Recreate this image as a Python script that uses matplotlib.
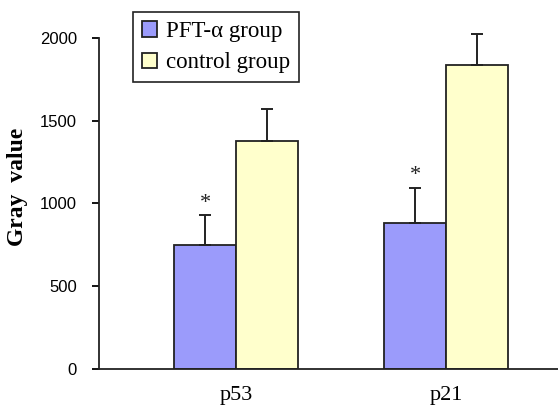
import numpy as np
import matplotlib
matplotlib.use("Agg")
import matplotlib.pyplot as plt

# data
genes = ["p53", "p21"]
pft_mean = [747, 882]
pft_err = [181, 212]
ctrl_mean = [1380, 1837]
ctrl_err = [192, 187]
yticks = [0, 500, 1000, 1500, 2000]

fig = plt.figure(figsize=(5.58, 4.07), dpi=100)
ax = fig.add_axes([0.1774, 0.0934, 0.8226, 0.8132])

x = np.arange(len(genes))
w = 0.295

ax.bar(x - w / 2, pft_mean, w, color="#9b9bfb", edgecolor="#222222", linewidth=1.3,
       label="PFT-α group", zorder=2)
ax.bar(x + w / 2, ctrl_mean, w, color="#ffffcc", edgecolor="#222222", linewidth=1.3,
       label="control group", zorder=2)

zeros = [0] * len(genes)
ax.errorbar(x - w / 2, pft_mean, yerr=[zeros, pft_err], fmt="none", ecolor="#222222",
            elinewidth=1.4, capsize=4.5, capthick=1.4, clip_on=False, zorder=3)
ax.errorbar(x + w / 2, ctrl_mean, yerr=[zeros, ctrl_err], fmt="none", ecolor="#222222",
            elinewidth=1.4, capsize=4.5, capthick=1.4, clip_on=False, zorder=3)

# significance stars
for xi, m, e in zip(x, pft_mean, pft_err):
    ax.text(xi - w / 2, m + e + 75, "*", ha="center", va="center",
            fontsize=16, family="Liberation Serif", color="#222222")

ax.set_xlim(-0.652, 1.533)
ax.set_ylim(0, 2000)
ax.set_yticks(yticks)
ax.set_yticklabels([str(t) for t in yticks], family="Liberation Sans", fontsize=12)
ax.set_xticks(x)
ax.set_xticklabels(genes, family="Liberation Serif", fontsize=16)
ax.tick_params(axis="x", length=0, pad=12)
ax.tick_params(axis="y", direction="out", length=5, width=1.3, pad=11)

for s in ["top", "right"]:
    ax.spines[s].set_visible(False)
for s in ["left", "bottom"]:
    ax.spines[s].set_linewidth(1.3)
    ax.spines[s].set_color("#222222")

ax.set_ylabel("Gray  value", family="Liberation Serif", fontweight="bold", fontsize=17,
              labelpad=12)
ax.yaxis.set_label_coords(-0.155, 0.55)

leg = ax.legend(loc="upper left", bbox_to_anchor=(0.238, 0.971), bbox_transform=fig.transFigure,
                borderaxespad=0, prop={"family": "Liberation Serif", "size": 16.5},
                handlelength=0.65, handleheight=0.65, handletextpad=0.4,
                fancybox=False, edgecolor="#222222", framealpha=1,
                borderpad=0.4, labelspacing=0.45)
leg.get_frame().set_linewidth(1.2)

fig.savefig("out.png", dpi=100)
